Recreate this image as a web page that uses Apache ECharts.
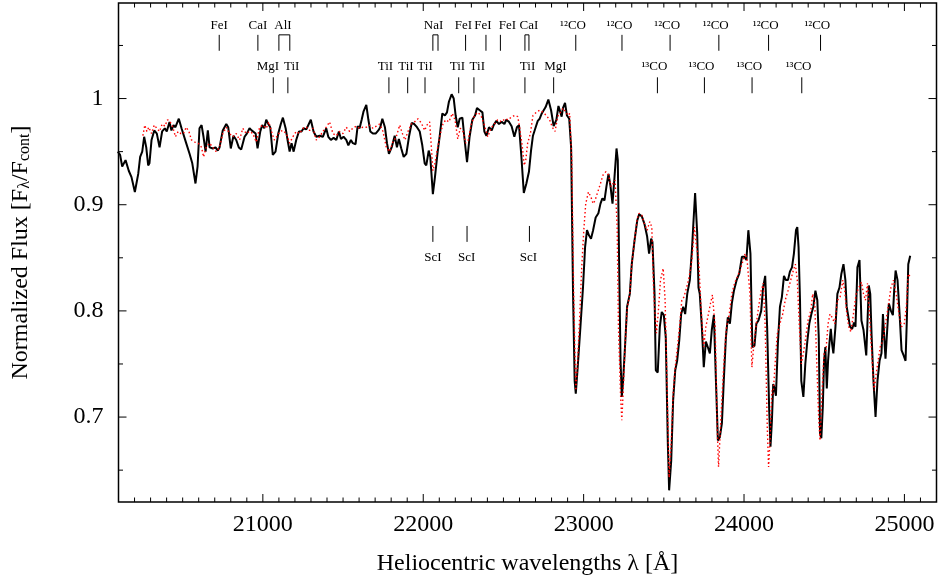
<!DOCTYPE html>
<html><head><meta charset="utf-8">
<script src="https://cdn.jsdelivr.net/npm/echarts@6.0.0/dist/echarts.min.js"></script>
<style>html,body{margin:0;padding:0;background:#fff}#c{width:941px;height:581px}</style>
</head><body><div id="c"></div>
<script>
// ---------------- data ----------------
const obsWave = [20095,20110,20123,20135,20144,20152,20164,20181,20202,20223,20235,20248,20260,20273,20285,20293,20306,20323,20339,20356,20372,20389,20401,20418,20430,20443,20455,20476,20493,20505,20522,20543,20560,20580,20593,20605,20618,20630,20643,20657,20668,20688,20705,20719,20730,20750,20772,20784,20800,20817,20834,20850,20865,20886,20900,20917,20930,20942,20955,20967,20984,20996,21009,21021,21034,21046,21062,21079,21096,21112,21125,21142,21154,21167,21179,21192,21208,21225,21241,21254,21271,21283,21299,21316,21333,21354,21374,21395,21408,21424,21441,21458,21474,21487,21503,21520,21533,21549,21561,21578,21591,21603,21616,21628,21645,21658,21670,21686,21703,21720,21732,21745,21761,21774,21786,21803,21822,21836,21848,21863,21878,21895,21911,21928,21944,21961,21978,21994,22009,22019,22034,22044,22060,22073,22090,22102,22119,22135,22148,22160,22177,22190,22202,22215,22227,22244,22256,22273,22289,22306,22323,22335,22352,22369,22381,22394,22410,22427,22439,22456,22472,22489,22506,22518,22535,22551,22568,22584,22597,22612,22627,22643,22659,22672,22684,22701,22714,22726,22739,22751,22763,22780,22797,22813,22830,22843,22855,22863,22871,22884,22896,22910,22922,22934,22944,22951,22963,22980,22996,23009,23021,23034,23046,23059,23075,23092,23105,23117,23130,23142,23155,23167,23180,23192,23205,23213,23221,23230,23238,23246,23259,23271,23288,23300,23317,23334,23346,23363,23379,23396,23408,23421,23429,23442,23450,23462,23475,23487,23500,23512,23525,23533,23546,23558,23571,23583,23596,23608,23621,23633,23646,23662,23675,23683,23695,23708,23716,23724,23737,23749,23762,23774,23787,23799,23812,23824,23837,23849,23862,23874,23887,23899,23912,23924,23937,23954,23970,23987,24002,24015,24027,24040,24052,24065,24077,24090,24107,24119,24132,24144,24157,24165,24174,24182,24190,24199,24211,24224,24236,24249,24261,24274,24286,24299,24311,24324,24332,24340,24349,24357,24370,24382,24395,24407,24420,24432,24445,24457,24466,24474,24482,24491,24499,24507,24516,24524,24532,24541,24549,24557,24570,24582,24595,24607,24620,24632,24640,24649,24661,24674,24686,24695,24707,24720,24732,24745,24753,24762,24770,24778,24787,24795,24807,24820,24832,24845,24857,24866,24874,24882,24891,24903,24916,24928,24936,24945,24957,24970,24982,24995,25007,25015,25024,25036];
const obsFlux = [0.950,0.947,0.936,0.937,0.942,0.942,0.932,0.926,0.912,0.929,0.945,0.950,0.964,0.954,0.937,0.939,0.961,0.970,0.967,0.954,0.969,0.972,0.969,0.978,0.970,0.975,0.973,0.981,0.972,0.973,0.958,0.948,0.939,0.920,0.936,0.972,0.975,0.964,0.950,0.970,0.954,0.953,0.954,0.951,0.954,0.970,0.976,0.973,0.953,0.965,0.961,0.954,0.952,0.964,0.967,0.972,0.970,0.970,0.967,0.953,0.969,0.975,0.972,0.980,0.976,0.973,0.947,0.950,0.967,0.976,0.982,0.972,0.961,0.950,0.958,0.950,0.961,0.969,0.969,0.972,0.971,0.972,0.980,0.969,0.964,0.965,0.964,0.972,0.964,0.961,0.963,0.961,0.969,0.962,0.964,0.961,0.956,0.961,0.958,0.957,0.974,0.972,0.980,0.988,0.994,0.980,0.969,0.967,0.967,0.970,0.973,0.981,0.973,0.958,0.948,0.954,0.965,0.954,0.962,0.953,0.945,0.948,0.964,0.977,0.976,0.973,0.969,0.956,0.939,0.937,0.951,0.945,0.910,0.926,0.950,0.964,0.986,0.984,0.987,0.997,1.004,1.000,0.984,0.973,0.981,0.982,0.964,0.940,0.964,0.980,0.984,0.991,0.989,0.987,0.969,0.965,0.973,0.970,0.975,0.979,0.976,0.978,0.976,0.980,0.978,0.974,0.964,0.973,0.975,0.945,0.911,0.920,0.931,0.951,0.965,0.973,0.979,0.981,0.986,0.985,0.992,0.999,0.989,0.974,0.980,0.993,0.987,0.983,0.991,0.996,0.984,0.981,0.954,0.816,0.734,0.722,0.747,0.785,0.822,0.860,0.876,0.871,0.868,0.876,0.888,0.892,0.901,0.906,0.904,0.917,0.929,0.918,0.901,0.925,0.953,0.942,0.848,0.753,0.719,0.734,0.769,0.804,0.816,0.844,0.866,0.885,0.891,0.889,0.882,0.870,0.854,0.868,0.865,0.816,0.744,0.742,0.785,0.799,0.796,0.775,0.675,0.631,0.659,0.716,0.744,0.753,0.772,0.797,0.804,0.797,0.816,0.829,0.857,0.879,0.911,0.873,0.822,0.816,0.785,0.747,0.771,0.766,0.760,0.782,0.796,0.738,0.678,0.681,0.694,0.735,0.775,0.794,0.788,0.807,0.819,0.829,0.835,0.851,0.851,0.848,0.876,0.854,0.766,0.767,0.788,0.791,0.800,0.822,0.833,0.785,0.706,0.672,0.697,0.731,0.727,0.720,0.769,0.804,0.813,0.833,0.829,0.829,0.837,0.841,0.854,0.876,0.879,0.860,0.810,0.734,0.719,0.750,0.772,0.788,0.797,0.804,0.819,0.810,0.775,0.684,0.680,0.709,0.753,0.766,0.727,0.753,0.769,0.783,0.769,0.760,0.785,0.816,0.822,0.835,0.844,0.829,0.804,0.804,0.785,0.783,0.789,0.785,0.841,0.848,0.791,0.782,0.782,0.758,0.791,0.824,0.816,0.778,0.734,0.700,0.734,0.753,0.760,0.797,0.796,0.755,0.778,0.807,0.800,0.796,0.819,0.838,0.829,0.797,0.763,0.758,0.753,0.791,0.844,0.852];

const modWave = [20252,20264,20277,20289,20306,20323,20339,20356,20372,20389,20406,20422,20439,20455,20472,20489,20505,20522,20539,20555,20576,20597,20618,20630,20647,20668,20688,20709,20730,20750,20772,20792,20813,20834,20855,20875,20896,20917,20938,20959,20980,21000,21021,21037,21054,21071,21092,21108,21125,21146,21167,21187,21208,21229,21250,21271,21291,21312,21333,21354,21374,21395,21416,21437,21458,21478,21499,21520,21541,21561,21582,21603,21624,21645,21666,21686,21707,21728,21749,21770,21790,21811,21832,21853,21870,21886,21905,21926,21946,21967,21988,22009,22023,22040,22052,22060,22073,22090,22107,22123,22140,22160,22181,22198,22215,22231,22248,22264,22281,22298,22319,22339,22360,22381,22402,22422,22443,22464,22489,22510,22531,22551,22572,22589,22601,22618,22630,22639,22651,22668,22684,22705,22726,22747,22768,22788,22805,22822,22838,22855,22872,22889,22905,22913,22926,22938,22951,22963,22976,22988,23001,23013,23030,23046,23059,23071,23088,23105,23121,23138,23155,23171,23184,23196,23209,23217,23230,23238,23246,23259,23271,23288,23300,23317,23334,23346,23363,23379,23396,23412,23425,23437,23454,23466,23479,23496,23508,23521,23533,23546,23558,23571,23583,23600,23612,23625,23642,23658,23675,23691,23704,23716,23733,23749,23762,23774,23791,23803,23820,23833,23841,23853,23866,23878,23891,23908,23924,23941,23958,23974,23991,24007,24019,24037,24049,24062,24074,24091,24107,24120,24132,24145,24153,24161,24174,24182,24195,24207,24224,24241,24257,24274,24291,24307,24320,24332,24345,24357,24370,24382,24399,24416,24428,24441,24453,24466,24474,24486,24499,24511,24524,24536,24549,24566,24582,24599,24616,24628,24641,24653,24666,24682,24699,24716,24732,24745,24757,24770,24782,24799,24811,24824,24836,24849,24866,24882,24899,24916,24932,24949,24966,24982,24999,25012,25024,25037];
const modFlux = [0.965,0.975,0.969,0.973,0.967,0.975,0.972,0.969,0.976,0.974,0.980,0.978,0.973,0.964,0.969,0.967,0.967,0.973,0.969,0.961,0.959,0.958,0.954,0.945,0.954,0.958,0.954,0.950,0.954,0.967,0.973,0.967,0.964,0.967,0.961,0.972,0.967,0.969,0.967,0.959,0.973,0.975,0.972,0.978,0.969,0.961,0.965,0.969,0.970,0.967,0.958,0.964,0.969,0.967,0.972,0.973,0.970,0.972,0.961,0.964,0.969,0.973,0.978,0.967,0.965,0.969,0.967,0.973,0.969,0.972,0.974,0.972,0.973,0.973,0.975,0.972,0.974,0.976,0.969,0.954,0.950,0.959,0.964,0.975,0.967,0.961,0.969,0.976,0.978,0.981,0.977,0.970,0.975,0.978,0.951,0.932,0.939,0.954,0.967,0.976,0.980,0.978,0.986,0.980,0.962,0.972,0.969,0.958,0.961,0.975,0.984,0.987,0.984,0.975,0.964,0.972,0.976,0.980,0.978,0.981,0.980,0.983,0.984,0.983,0.973,0.954,0.937,0.942,0.958,0.967,0.984,0.987,0.989,0.987,0.984,0.980,0.973,0.969,0.983,0.987,0.991,0.987,0.984,0.986,0.942,0.816,0.725,0.753,0.797,0.841,0.876,0.901,0.912,0.907,0.901,0.904,0.912,0.920,0.928,0.931,0.928,0.917,0.920,0.923,0.879,0.785,0.722,0.697,0.722,0.769,0.802,0.816,0.844,0.866,0.887,0.892,0.890,0.882,0.876,0.884,0.879,0.816,0.779,0.800,0.829,0.840,0.810,0.722,0.643,0.675,0.722,0.747,0.763,0.788,0.810,0.813,0.822,0.832,0.848,0.879,0.860,0.851,0.800,0.766,0.785,0.794,0.807,0.815,0.785,0.690,0.653,0.690,0.728,0.760,0.785,0.797,0.816,0.826,0.832,0.838,0.846,0.854,0.848,0.816,0.747,0.769,0.785,0.804,0.819,0.826,0.785,0.690,0.653,0.675,0.725,0.722,0.753,0.778,0.788,0.797,0.810,0.819,0.829,0.838,0.844,0.829,0.785,0.750,0.760,0.772,0.791,0.800,0.816,0.807,0.753,0.697,0.678,0.722,0.760,0.763,0.788,0.797,0.794,0.788,0.810,0.813,0.829,0.819,0.797,0.785,0.780,0.797,0.816,0.822,0.827,0.816,0.810,0.826,0.797,0.753,0.725,0.741,0.753,0.766,0.772,0.788,0.804,0.822,0.829,0.816,0.797,0.785,0.788,0.804,0.835,0.832];

const xTickLabels = [21000, 22000, 23000, 24000, 25000];
const yTickLabels = [0.7, 0.8, 0.9, 1];
const yMinorTicks = [0.65, 0.75, 0.85, 0.95, 1.05];

// line identifications: label text, label wavelength, marked wavelengths
const upperNames = ['FeI','CaI','AlI','NaI','FeI','FeI','FeI','CaI','¹²CO','¹²CO','¹²CO','¹²CO','¹²CO','¹²CO'];
const upperLabelAt = [20728,20969,21125,22064,22250,22372,22525,22659,22934,23223,23521,23824,24135,24457];
const upperLines = [[20728],[20969],[21100,21168],[22060,22092],[22264],[22391],[22481],[22634,22659],[22951],[23239],[23539],[23843],[24153],[24477]];
const midNames = ['MgI','TiI','TiI','TiI','TiI','TiI','TiI','TiI','MgI','¹³CO','¹³CO','¹³CO','¹³CO'];
const midLabelAt = [21032,21180,21764,21892,22011,22213,22337,22650,22824,23441,23735,24033,24340];
const midLines = [[21065],[21156],[21786],[21903],[22011],[22221],[22316],[22634],[22813],[23460],[23753],[24050],[24360]];
const lowNames = ['ScI','ScI','ScI'];
const lowLabelAt = [22060,22271,22656];
const lowLines = [[22060],[22273],[22662]];

// ---------------- layout ----------------
const X_MIN = 20100, X_MAX = 25200, Y_MIN = 0.62, Y_MAX = 1.09;
const FONT = '"Liberation Serif","Times New Roman",serif';
const rowLayout = [
  {textY: 1.069, bar: [1.045, 1.06]},
  {textY: 1.030, bar: [1.005, 1.02]},
  {textY: 0.850, bar: [0.865, 0.88]}
];
const annItems = [];
[[upperNames, upperLabelAt, upperLines], [midNames, midLabelAt, midLines], [lowNames, lowLabelAt, lowLines]]
  .forEach((r, ri) => r[0].forEach((n, i) => annItems.push({name: n, at: r[1][i], lines: r[2][i], row: rowLayout[ri]})));

const tickItems = [];
xTickLabels.forEach(v => tickItems.push([v, 0]));
for (let v = X_MIN + 100; v < X_MAX; v += 100) if (!xTickLabels.includes(v)) tickItems.push([v, 1]);
yTickLabels.forEach(v => tickItems.push([v, 2]));
yMinorTicks.forEach(v => tickItems.push([v, 3]));

function seg(p, q) {
  return {type: 'line', shape: {x1: p[0], y1: p[1], x2: q[0], y2: q[1]}, style: {stroke: '#000', lineWidth: 1}};
}
function renderTick(params, api) {
  const v = api.value(0), kind = api.value(1);
  const L = (kind === 0 || kind === 2) ? 8 : 4.5;
  const ch = [];
  if (kind < 2) {
    const b = api.coord([v, Y_MIN]), t = api.coord([v, Y_MAX]);
    ch.push(seg(b, [b[0], b[1] - L]), seg(t, [t[0], t[1] + L]));
  } else {
    const l = api.coord([X_MIN, v]), r = api.coord([X_MAX, v]);
    ch.push(seg(l, [l[0] + L, l[1]]), seg(r, [r[0] - L, r[1]]));
  }
  return {type: 'group', children: ch};
}
function renderAnn(params, api) {
  const a = annItems[params.dataIndex];
  const tp = api.coord([a.at, a.row.textY]);
  const ch = [{type: 'text', x: tp[0], y: tp[1], style: {text: a.name, fill: '#000', font: '13px ' + FONT,
    align: 'center', verticalAlign: 'middle', textAlign: 'center', textVerticalAlign: 'middle'}}];
  if (a.lines.length === 1) {
    ch.push(seg(api.coord([a.lines[0], a.row.bar[0]]), api.coord([a.lines[0], a.row.bar[1]])));
  } else {
    const p1 = api.coord([a.lines[0], a.row.bar[0]]), p2 = api.coord([a.lines[0], a.row.bar[1]]);
    const p3 = api.coord([a.lines[1], a.row.bar[1]]), p4 = api.coord([a.lines[1], a.row.bar[0]]);
    ch.push({type: 'polyline', shape: {points: [p1, p2, p3, p4]}, style: {stroke: '#000', lineWidth: 1, fill: null}});
  }
  return {type: 'group', children: ch};
}

const chart = echarts.init(document.getElementById('c'), null, {renderer: 'canvas'});
chart.setOption({
  animation: false,
  backgroundColor: '#fff',
  grid: {left: 118.5, top: 3, width: 818, height: 499, show: true, borderColor: '#000', borderWidth: 1.5, backgroundColor: 'transparent'},
  xAxis: {
    type: 'value', min: X_MIN, max: X_MAX, interval: 100,
    axisLine: {show: false}, axisTick: {show: false}, splitLine: {show: false},
    axisLabel: {margin: 11, color: '#000', fontSize: 24, fontFamily: FONT,
      formatter: v => xTickLabels.includes(Math.round(v)) ? String(Math.round(v)) : ''},
    name: 'Heliocentric wavelengths λ [Å]', nameLocation: 'middle', nameGap: 50,
    nameTextStyle: {color: '#000', fontSize: 24, fontFamily: FONT}
  },
  yAxis: {
    type: 'value', min: Y_MIN, max: Y_MAX, interval: 0.01,
    axisLine: {show: false}, axisTick: {show: false}, splitLine: {show: false},
    axisLabel: {margin: 15, color: '#000', fontSize: 24, fontFamily: FONT,
      formatter: v => { const r = Math.round(v * 100) / 100; return yTickLabels.includes(r) ? String(r) : ''; }},
    name: 'Normalized Flux [F{s|λ}/F{s|cont}]', nameLocation: 'middle', nameGap: 86,
    nameTextStyle: {color: '#000', fontSize: 24, fontFamily: FONT,
      rich: {s: {fontSize: 16, fontFamily: FONT, color: '#000', verticalAlign: 'bottom', lineHeight: 12}}}
  },
  series: [
    {type: 'line', name: 'observed', data: obsWave.map((w, i) => [w, obsFlux[i]]), showSymbol: false, symbol: 'none',
      lineStyle: {color: '#000', width: 2}, z: 3, silent: true},
    {type: 'line', name: 'model', data: modWave.map((w, i) => [w, modFlux[i]]), showSymbol: false, symbol: 'none',
      lineStyle: {color: '#ff0000', width: 1.4, type: [1.5, 2.5]}, z: 4, silent: true},
    {type: 'custom', data: tickItems, renderItem: renderTick, clip: false, silent: true, z: 5},
    {type: 'custom', data: annItems.map(a => [a.at, a.row.textY]), renderItem: renderAnn, clip: false, silent: true, z: 5}
  ]
});
</script>
</body></html>
